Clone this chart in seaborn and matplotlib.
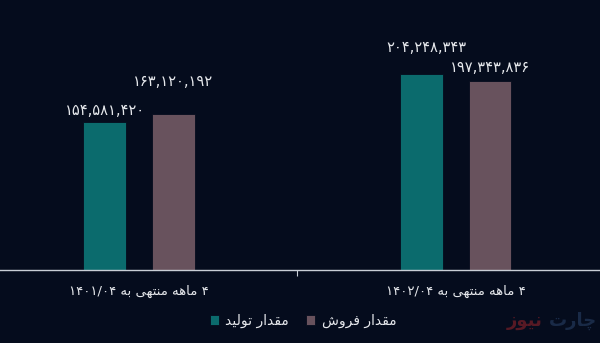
import matplotlib
matplotlib.use("Agg")
import matplotlib.pyplot as plt
import seaborn as sns
import pandas as pd

# ---------------- data ----------------
categories = ["۴ ماهه منتهی به ۱۴۰۱/۰۴", "۴ ماهه منتهی به ۱۴۰۲/۰۴"]
series_names = ["مقدار تولید", "مقدار فروش"]
production = [154581420, 204248343]
sales = [163120192, 197343836]
watermark_a = "نیوز"
watermark_b = "چارت"

# ---------------- minimal Persian shaping (visual order) ----------------
DUAL = {'ب': (0xFE8F, 0xFE90, 0xFE91, 0xFE92), 'ت': (0xFE95, 0xFE96, 0xFE97, 0xFE98),
        'ش': (0xFEB5, 0xFEB6, 0xFEB7, 0xFEB8), 'ف': (0xFED1, 0xFED2, 0xFED3, 0xFED4),
        'ق': (0xFED5, 0xFED6, 0xFED7, 0xFED8), 'ل': (0xFEDD, 0xFEDE, 0xFEDF, 0xFEE0),
        'م': (0xFEE1, 0xFEE2, 0xFEE3, 0xFEE4), 'ن': (0xFEE5, 0xFEE6, 0xFEE7, 0xFEE8),
        'ه': (0xFEE9, 0xFEEA, 0xFEEB, 0xFEEC), 'ی': (0xFEEF, 0xFEF0, 0xFEF3, 0xFEF4),
        'چ': (0xFB7A, 0xFB7B, 0xFB7C, 0xFB7D)}
RIGHT = {'ا': (0xFE8D, 0xFE8E), 'د': (0xFEA9, 0xFEAA), 'ر': (0xFEAD, 0xFEAE),
         'و': (0xFEED, 0xFEEE), 'ز': (0xFEAF, 0xFEB0)}


def shape_word(w):
    out = []
    for i, c in enumerate(w):
        prev = w[i - 1] if i > 0 else None
        nxt = w[i + 1] if i + 1 < len(w) else None
        jp = prev in DUAL
        jn = c in DUAL and nxt is not None and (nxt in DUAL or nxt in RIGHT)
        if c in DUAL:
            idx = 3 if (jp and jn) else (1 if jp else (2 if jn else 0))
            out.append(chr(DUAL[c][idx]))
        elif c in RIGHT:
            out.append(chr(RIGHT[c][1 if jp else 0]))
        else:
            out.append(c)
    return ''.join(reversed(out))


def rtl(text):
    toks = text.split(' ')
    vis = [shape_word(t) if any(ch in DUAL or ch in RIGHT for ch in t) else t for t in toks]
    return ' '.join(reversed(vis))


PD = str.maketrans("0123456789", "۰۱۲۳۴۵۶۷۸۹")


def fa_num(v):
    return format(v, ",").translate(PD)


# ---------------- build frame ----------------
cat_vis = [rtl(c) for c in categories]
ser_vis = [rtl(s) for s in series_names]
df = pd.DataFrame({
    "cat": cat_vis * 2,
    "series": [ser_vis[0]] * 2 + [ser_vis[1]] * 2,
    "value": production + sales,
})

BG = "#050c1d"
TEAL = "#0b6b6d"
MAUVE = "#68525d"
TXT = "#e6e8ec"

sns.set_theme(style="white")
plt.rcParams['font.family'] = ['DejaVu Sans']

fig = plt.figure(figsize=(6, 3.43), dpi=100, facecolor=BG)
ax = fig.add_axes([0, 73 / 343, 1, 270 / 343])
ax.set_facecolor(BG)

sns.barplot(data=df, x="cat", y="value", hue="series", order=cat_vis, hue_order=ser_vis,
            palette=[TEAL, MAUVE], width=0.43, gap=0.37, ax=ax, legend=True,
            edgecolor=BG, linewidth=0.6, saturation=1)

ax.set_xlim(-0.4385, 1.4545)
ax.set_ylim(0, 281.5e6)
ax.set_xlabel("")
ax.set_ylabel("")
ax.set_yticks([])
for s in ["top", "right", "left"]:
    ax.spines[s].set_visible(False)
ax.spines["bottom"].set_color("#c9ced6")
ax.spines["bottom"].set_linewidth(1.0)

ax.set_xticks([0, 1])
ax.set_xticklabels(cat_vis, color=TXT, fontsize=9.5)
ax.tick_params(axis="x", which="major", length=0, pad=11)
ax.set_xticks([0.5], minor=True)
ax.tick_params(axis="x", which="minor", length=4, width=0.8, color="#c9ced6", bottom=True)

# value labels (offsets in points are styling)
offsets = {0: [(0, 3), (0, 18)], 1: [(3, 14), (0, 4)]}
for si, cont in enumerate(ax.containers):
    for ci, bar in enumerate(cont):
        h = bar.get_height()
        dx, dy = offsets[ci][si]
        ax.annotate(fa_num(int(round(h))), (bar.get_x() + bar.get_width() / 2, h),
                    xytext=(dx, dy), textcoords="offset points", ha="center", va="bottom",
                    color=TXT, fontsize=10.5)

handles, labels = ax.get_legend_handles_labels()
ax.legend_.remove()
leg = fig.legend(handles, labels, loc="center", bbox_to_anchor=(0.505, 22 / 343), ncol=2,
                 frameon=False, handlelength=0.65, handleheight=0.65, handletextpad=0.5,
                 columnspacing=1.2, fontsize=10)
for t in leg.get_texts():
    t.set_color(TXT)

# watermark (kept fully inside the figure)
fig.text(543 / 600, 22 / 343, rtl(watermark_a), color="#7a1f28", alpha=0.7, fontsize=13,
         fontweight="bold", ha="right", va="center")
fig.text(597 / 600, 22 / 343, rtl(watermark_b), color="#1c2e4c", alpha=0.9, fontsize=13,
         fontweight="bold", ha="right", va="center")

fig.savefig("out.png", dpi=100, facecolor=BG)
